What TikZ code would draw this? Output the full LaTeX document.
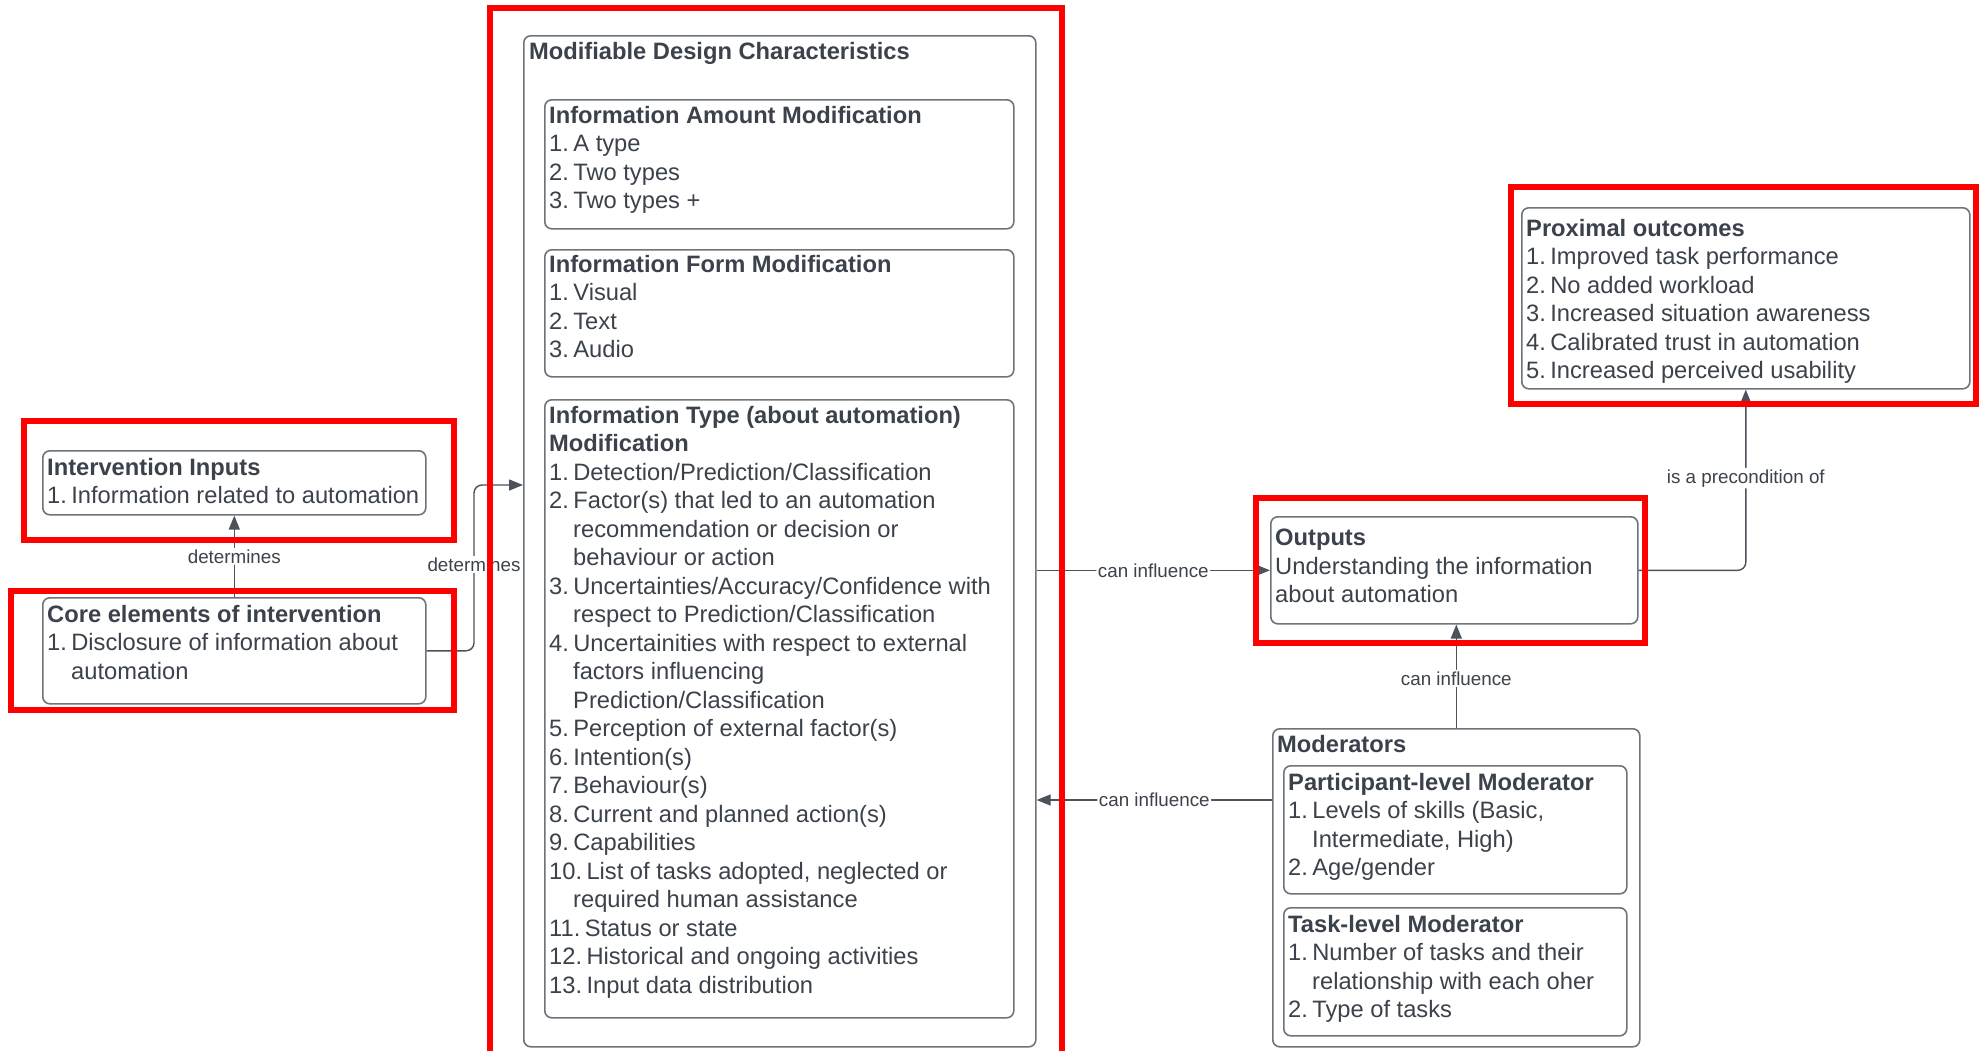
\documentclass[tikz,border=0pt]{standalone}
\usepackage{fontspec}
\setmainfont{Liberation Sans}
\usetikzlibrary{arrows.meta}
\definecolor{ink}{HTML}{3B424B}
\definecolor{frame}{HTML}{6E747C}
\definecolor{wire}{HTML}{4B525C}
\definecolor{mark}{HTML}{FF0000}

% list number followed by a small gap; continuation lines use a fixed indent
\newcommand{\nm}[1]{#1\hspace{4.4pt}}
\newcommand{\cont}{\hspace*{24pt}}

\begin{document}
\begin{tikzpicture}[x=1pt,y=-1pt,
  panel/.style={draw=frame, line width=1.6pt, rounded corners=7pt, inner sep=0pt, anchor=north west},
  body/.style={anchor=north west, inner sep=0pt, align=left, text=ink, font=\fontsize{23.7}{28.5}\selectfont},
  lbl/.style={fill=white, inner sep=1.5pt, text=ink, font=\fontsize{18.8}{20}\selectfont},
  conn/.style={draw=wire, line width=1.4pt, rounded corners=8pt, -{Triangle[length=14pt,width=11pt]}},
  hilite/.style={draw=mark, line width=6pt}]

\useasboundingbox (0,0) rectangle (1984,1050);
\clip (0,0) rectangle (1984,1050);
\fill[white] (0,0) rectangle (1984,1050);

% ---- boxes ----
\node[panel, minimum width=512pt, minimum height=1011pt] (mod) at (523,35) {};
\node[panel, minimum width=469pt, minimum height=129pt] (amt) at (544,99) {};
\node[panel, minimum width=469pt, minimum height=127pt] (form) at (544,249) {};
\node[panel, minimum width=469pt, minimum height=618pt] (itype) at (544,399) {};
\node[panel, minimum width=383pt, minimum height=64pt] (inputs) at (42,450) {};
\node[panel, minimum width=383pt, minimum height=106pt] (core) at (42,597) {};
\node[panel, minimum width=367pt, minimum height=107pt] (outputs) at (1270,516) {};
\node[panel, minimum width=448pt, minimum height=181pt] (prox) at (1521,207) {};
\node[panel, minimum width=367pt, minimum height=318pt] (moder) at (1272,728) {};
\node[panel, minimum width=343pt, minimum height=128pt] (part) at (1283,765) {};
\node[panel, minimum width=343pt, minimum height=128pt] (task) at (1283,907) {};

% ---- texts ----
\node[body] (modT) at (529,42) {\textbf{Modifiable Design Characteristics}};
\node[body] (amtT) at (549,106) {\textbf{Information Amount Modification}\\
  \nm{1.}A type\\ \nm{2.}Two types\\ \nm{3.}Two types +};
\node[body] (formT) at (549,255) {\textbf{Information Form Modification}\\
  \nm{1.}Visual\\ \nm{2.}Text\\ \nm{3.}Audio};
\node[body] (itypeT) at (549,406) {\textbf{Information Type (about automation)}\\
  \textbf{Modification}\\
  \nm{1.}Detection/Prediction/Classification\\
  \nm{2.}Factor(s) that led to an automation\\
  \cont recommendation or decision or\\
  \cont behaviour or action\\
  \nm{3.}Uncertainties/Accuracy/Confidence with\\
  \cont respect to Prediction/Classification\\
  \nm{4.}Uncertainities with respect to external\\
  \cont factors influencing\\
  \cont Prediction/Classification\\
  \nm{5.}Perception of external factor(s)\\
  \nm{6.}Intention(s)\\
  \nm{7.}Behaviour(s)\\
  \nm{8.}Current and planned action(s)\\
  \nm{9.}Capabilities\\
  \nm{10.}List of tasks adopted, neglected or\\
  \cont required human assistance\\
  \nm{11.}Status or state\\
  \nm{12.}Historical and ongoing activities\\
  \nm{13.}Input data distribution};
\node[body] (inputsT) at (47,458) {\textbf{Intervention Inputs}\\
  \nm{1.}Information related to automation};
\node[body] (coreT) at (47,605) {\textbf{Core elements of intervention}\\
  \nm{1.}Disclosure of information about\\ \cont automation};
\node[body] (outputsT) at (1275,529) {\textbf{Outputs}\\
  Understanding the information\\ about automation};
\node[body] (proxT) at (1526,219) {\textbf{Proximal outcomes}\\
  \nm{1.}Improved task performance\\
  \nm{2.}No added workload\\
  \nm{3.}Increased situation awareness\\
  \nm{4.}Calibrated trust in automation\\
  \nm{5.}Increased perceived usability};
\node[body] (moderT) at (1277,735) {\textbf{Moderators}};
\node[body] (partT) at (1288,773) {\textbf{Participant-level Moderator}\\
  \nm{1.}Levels of skills (Basic,\\ \cont Intermediate, High)\\ \nm{2.}Age/gender};
\node[body] (taskT) at (1288,915) {\textbf{Task-level Moderator}\\
  \nm{1.}Number of tasks and their\\ \cont relationship with each oher\\ \nm{2.}Type of tasks};

% ---- connectors ----
\coordinate (bendA) at (474,485);
\coordinate (inflY) at (0,800);

\draw[conn] (core.north) -- node[lbl] {determines} (inputs.south);
\draw[conn] (core.east) -| node[lbl, pos=0.76] {determines} (bendA) -- (bendA -| mod.west);
\draw[conn] (outputs.west -| mod.east) -- node[lbl] {can influence} (outputs.west);
\draw[conn] (outputs.east) -| node[lbl, pos=0.755] {is a precondition of} (prox.south);
\draw[conn] (moder.north) -- node[lbl, pos=0.48] {can influence} (moder.north |- outputs.south);
\draw[conn] (moder.west |- inflY) -- node[lbl] {can influence} (mod.east |- inflY);

% ---- highlight frames ----
\draw[hilite] (490,8) rectangle (1062,1070);
\draw[hilite] (24,421) rectangle (454,540);
\draw[hilite] (11,591) rectangle (454,710);
\draw[hilite] (1256,498) rectangle (1645,643);
\draw[hilite] (1511,187) rectangle (1976,404);
\end{tikzpicture}
\end{document}
